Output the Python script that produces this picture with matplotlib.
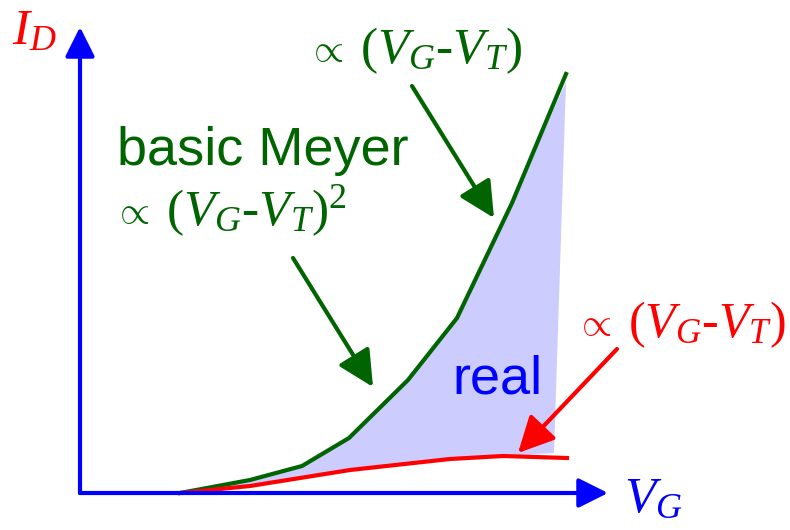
import matplotlib
matplotlib.use('Agg')
from matplotlib import pyplot as plt

plt.rcParams['mathtext.fontset'] = 'custom'
plt.rcParams['mathtext.rm'] = 'Liberation Serif'
plt.rcParams['mathtext.it'] = 'Liberation Serif:italic'

GREEN = '#006400'
RED = '#ff0000'
BLUE = '#0000ff'
FILL = '#ccccff'

# basic Meyer model, quadratic in (VG - VT)
vg_meyer = [100, 170, 222, 269, 328, 377, 432, 486]
id_meyer = [0, 13, 27, 55, 113, 175, 290, 419]

# real device, saturating
vg_real = [100, 170, 270, 370, 423, 487]
id_real = [0, 7, 23, 34, 37, 35]

# shaded gap between the two models
vg_gap = [100, 170, 222, 269, 328, 377, 432, 486, 474, 423, 370, 270, 170, 100]
id_gap = [0, 13, 27, 55, 113, 175, 290, 411, 40, 37, 34, 23, 7, 0]

fig = plt.figure(figsize=(7.9, 5.3), dpi=100)
ax = fig.add_axes([0, 0, 1, 1])
ax.set_xlim(-80, 710)
ax.set_ylim(-37, 493)
ax.axis('off')

ax.fill(vg_gap, id_gap, color=FILL, lw=0, zorder=1)
ax.plot(vg_meyer, id_meyer, color=GREEN, lw=3, zorder=3, solid_joinstyle='miter')
ax.plot(vg_real, id_real, color=RED, lw=3, zorder=3)

# axes with arrow heads
axis_style = dict(arrowstyle='-|>,head_length=0.9,head_width=0.45',
                  mutation_scale=20, lw=3, color=BLUE, shrinkA=0, shrinkB=0)
ax.annotate('', xy=(528, 0), xytext=(0, 0), arrowprops=axis_style, zorder=4)
ax.annotate('', xy=(0, 466), xytext=(0, 0), arrowprops=axis_style, zorder=4)


def pointer(x0, y0, x1, y1, color):
    ax.annotate('', xy=(x1, y1), xytext=(x0, y0), zorder=5,
                arrowprops=dict(arrowstyle='-|>,head_length=1.1,head_width=0.55',
                                mutation_scale=20, lw=3, color=color,
                                shrinkA=0, shrinkB=0))


pointer(332, 407, 414, 275, GREEN)
pointer(213, 235, 293, 106, GREEN)
pointer(537, 144, 438, 40, RED)

serif = ['Liberation Serif', 'DejaVu Serif']


def prop_label(x, y, expr, color, size=37):
    # "proportional to" sign drawn a bit smaller than the expression
    ax.text(x - 2, y + 2, r'$\propto$', color=color, fontsize=28, family=serif)
    ax.text(x + 50, y, expr, color=color, fontsize=size, family=serif)


ax.text(-68, 449, r'$I_D$', color=RED, fontsize=37, family=serif)
ax.text(544, -19, r'$V_G$', color=BLUE, fontsize=37, family=serif)
prop_label(230, 430, r'($V_G$-$V_T$)', GREEN)
prop_label(36, 268, r'($V_G$-$V_T$)$^2$', GREEN)
prop_label(498, 156, r'($V_G$-$V_T$)', RED, size=36)
ax.text(37, 328, 'basic Meyer', color=GREEN, fontsize=39, family='Liberation Sans')
ax.text(372, 100, 'real', color=BLUE, fontsize=39, family='Liberation Sans')

fig.savefig('out.png', dpi=100)
